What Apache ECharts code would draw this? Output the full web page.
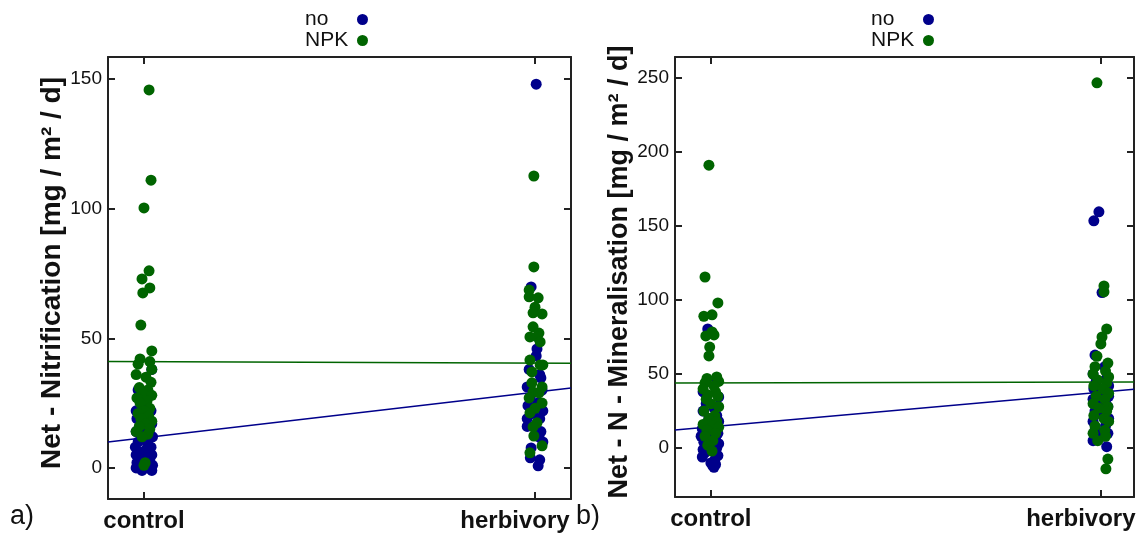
<!DOCTYPE html>
<html>
<head>
<meta charset="utf-8">
<script src="https://cdn.jsdelivr.net/npm/echarts@6/dist/echarts.min.js"></script>
<style>
html,body{margin:0;padding:0;background:#fff;}
#chart{width:1143px;height:536px;}
</style>
</head>
<body>
<div id="chart"></div>
<script>
// ---------- data ----------
var categories = ['control', 'herbivory'];
var seriesNames = ['no', 'NPK'];

// Panel a) Net - Nitrification
var yTicksA = [0, 50, 100, 150];
var noCtrlA = [38, 30, 29, 25, 22, 22, 20, 19, 18, 17, 16, 15, 14, 13, 13, 12, 11, 10, 9, 8, 8, 7, 6, 5, 5, 4, 3, 3, 2, 1, 1, 0, 0, -1, -1];
var noCtrlAJit = [0.02, -0.015, 0.01, -0.005, -0.02, 0.018, 0.005, -0.018, 0.012, 0.02, -0.01, 0.003, -0.02, 0.015, -0.008, 0.022, 0.0, -0.015, 0.01, -0.022, 0.018, 0.005, -0.012, 0.02, -0.02, 0.008, -0.005, 0.015, -0.018, 0.022, -0.01, 0.012, -0.02, 0.02, -0.005];
var npkCtrlA = [145.8, 111, 100.3, 76, 72.9, 69.4, 67.5, 55.1, 45.1, 42, 41, 40, 38, 36, 35, 33, 31, 30, 29, 28, 27, 26, 25, 23, 22, 21, 20, 19, 18, 17, 16, 15, 14, 13, 12, 2, 1];
var npkCtrlAJit = [0.013, 0.018, 0.0, 0.013, -0.005, 0.015, -0.003, -0.008, 0.02, -0.01, 0.015, -0.015, 0.02, -0.02, 0.005, 0.018, -0.012, 0.01, -0.005, 0.02, -0.018, 0.008, -0.01, 0.015, 0.0, -0.015, 0.012, -0.008, 0.02, 0.005, -0.012, 0.015, -0.02, 0.01, -0.005, 0.003, 0.0];
var noHerbA = [148, 69.8, 45.9, 43.2, 38, 36, 34.7, 31.2, 30, 27, 25, 24, 22, 21, 19, 19, 16, 14, 12, 10, 7.7, 3.9, 3.1, 0.8];
var noHerbAJit = [0.003, -0.01, 0.005, 0.003, -0.015, 0.012, 0.015, -0.02, 0.018, -0.012, 0.008, -0.018, 0.02, -0.005, -0.02, 0.012, -0.02, 0.015, 0.01, 0.02, -0.01, -0.012, 0.012, 0.008];
var npkHerbA = [112.6, 77.5, 68.6, 66, 65.6, 62, 59.8, 59.4, 54.4, 52, 50.5, 50.5, 48.6, 41.6, 39.7, 39.7, 37, 32.8, 31.2, 29.3, 28.9, 27, 25, 23, 21.2, 17.4, 15.8, 12.3, 8.5, 5.8];
var npkHerbAJit = [-0.003, -0.003, -0.015, -0.015, 0.008, 0.0, -0.005, 0.018, -0.005, 0.01, -0.013, 0.005, 0.013, -0.013, 0.013, 0.02, -0.008, -0.008, 0.018, -0.005, 0.01, -0.015, 0.018, 0.0, -0.013, 0.005, -0.005, -0.003, 0.018, -0.013];
var fitNoA = [11.6, 29.2];   // fitted value at control, herbivory
var fitNpkA = [41.0, 40.4];

// Panel b) Net - N - Mineralisation
var yTicksB = [0, 50, 100, 150, 200, 250];
var noCtrlB = [80.4, 45, 38, 34.5, 30, 27, 25, 22, 20, 18, 16, 14, 13, 12, 10, 9, 8, 6, 5, 4, 3, 2, 0, -1, -2, -3, -5, -6, -8, -10, -11, -12, -13];
var noCtrlBJit = [-0.008, 0.015, -0.02, 0.02, -0.012, 0.008, -0.02, 0.015, -0.005, 0.02, -0.015, 0.01, -0.022, 0.005, 0.018, -0.01, -0.025, 0.012, 0.0, -0.018, 0.02, -0.008, 0.015, -0.02, 0.005, -0.015, 0.018, -0.022, 0.01, 0.0, 0.012, 0.005, 0.008];
var npkCtrlB = [191, 115.5, 98, 90, 89, 78.4, 76.4, 75.7, 68.2, 62.2, 48, 47, 45, 44, 42, 40, 38, 36, 35, 33, 30, 28, 25, 22, 20, 18, 16, 15, 14, 12, 10, 8, 5, 2, -2];
var npkCtrlBJit = [-0.005, -0.015, 0.018, 0.003, -0.018, 0.003, 0.008, -0.013, -0.003, -0.005, 0.015, -0.01, 0.02, -0.015, 0.008, -0.02, 0.012, -0.008, 0.018, -0.012, 0.0, 0.02, -0.018, 0.01, -0.005, 0.015, -0.02, 0.005, 0.02, -0.01, 0.012, -0.015, 0.005, -0.008, 0.003];
var noHerbB = [159.5, 153.4, 105, 62.8, 55, 50, 47, 45, 42, 40, 38, 35, 33, 32, 30, 28, 25, 22, 20, 18, 15, 12, 10, 8, 5, 1];
var noHerbBJit = [-0.005, -0.018, 0.003, -0.015, 0.01, -0.02, 0.015, -0.012, 0.02, -0.018, 0.008, 0.02, -0.02, 0.012, -0.01, 0.018, -0.015, 0.005, 0.02, -0.02, 0.012, -0.015, 0.018, 0.005, -0.02, 0.015];
var npkHerbB = [246.6, 109.5, 105.4, 80.4, 75, 70.3, 62, 57.4, 55, 52, 50, 48, 46, 44, 42, 40, 37, 35, 33, 30, 28, 27, 25, 22, 20, 18, 15, 12, 10, 8, 5, -7.4, -14];
var npkHerbBJit = [-0.01, 0.008, 0.008, 0.015, 0.003, 0.0, -0.01, 0.018, -0.015, 0.012, -0.02, 0.02, -0.008, 0.015, -0.018, 0.005, 0.02, -0.012, 0.01, -0.02, 0.018, -0.005, 0.015, -0.018, 0.008, 0.02, -0.015, 0.01, -0.02, 0.012, -0.008, 0.018, 0.013];
var fitNoB = [14.4, 37.8];
var fitNpkB = [44.0, 44.6];

// ---------- styling / layout ----------
var BLUE = '#00008B', GREEN = '#006400';
var FONT = '"Liberation Sans", Arial, sans-serif';
var xMinA = -0.092, xMaxA = 1.092, yMinA = -12, yMaxA = 158.5;
var xMinB = -0.092, xMaxB = 1.085, yMinB = -33, yMaxB = 264;

function pts(cat, vals, jit) {
  return vals.map(function (v, i) { return [cat + (jit[i] || 0), v]; });
}
function fitLine(fit, x0, x1) {
  var f = function (x) { return fit[0] + (fit[1] - fit[0]) * x; };
  return [[x0, f(x0)], [x1, f(x1)]];
}

var axisLineStyle = { color: '#222', width: 2 };
function xAx(grid, mn, mx, pos, labels) {
  return {
    type: 'value', gridIndex: grid, min: mn, max: mx, position: pos,
    axisLine: { show: true, onZero: false, lineStyle: axisLineStyle },
    axisTick: { show: true, inside: true, length: 7, lineStyle: axisLineStyle, customValues: [0, 1] },
    axisLabel: labels ? {
      show: true, customValues: [0, 1], margin: 10,
      formatter: function (v) { var i = Math.round(v); return '{c' + i + '|' + categories[i] + '}'; },
      rich: {
        c0: { fontFamily: FONT, fontSize: 24, fontWeight: 'bold', color: '#111' },
        c1: { fontFamily: FONT, fontSize: 24, fontWeight: 'bold', color: '#111', padding: [0, 40, 0, 0] }
      }
    } : { show: false },
    splitLine: { show: false }
  };
}
function yAx(grid, mn, mx, pos, ticks, name, labels, nameSize) {
  return {
    type: 'value', gridIndex: grid, min: mn, max: mx, position: pos,
    name: name || '', nameLocation: 'middle', nameRotate: 90, nameGap: 37,
    nameTextStyle: { fontFamily: FONT, fontSize: nameSize || 27, fontWeight: 'bold', color: '#111', padding: [0, 0, 0, 10] },
    axisLine: { show: true, onZero: false, lineStyle: axisLineStyle },
    axisTick: { show: true, inside: true, length: 7, lineStyle: axisLineStyle, customValues: ticks },
    axisLabel: labels ? {
      show: true, customValues: ticks, margin: 6,
      fontFamily: FONT, fontSize: 19, color: '#111'
    } : { show: false },
    splitLine: { show: false }
  };
}
function scatter(name, color, data, xi, yi, z) {
  return {
    name: name, type: 'scatter', xAxisIndex: xi, yAxisIndex: yi,
    data: data, symbol: 'circle', symbolSize: 11, z: z,
    itemStyle: { color: color, opacity: 1 }, silent: true
  };
}
function line(color, data, xi, yi) {
  return {
    type: 'line', xAxisIndex: xi, yAxisIndex: yi, data: data,
    symbol: 'none', z: 1, silent: true,
    lineStyle: { color: color, width: 1.5 }
  };
}
function legend(left) {
  return {
    data: seriesNames, orient: 'vertical', left: left, top: 4,
    align: 'right', icon: 'circle', itemWidth: 11, itemHeight: 11, itemGap: 0,
    selectedMode: false,
    formatter: function (n) { return '{t|' + n + '}'; },
    textStyle: {
      fontFamily: FONT, fontSize: 21, color: '#111', lineHeight: 21,
      rich: { t: { fontFamily: FONT, fontSize: 21, color: '#111', width: 47, align: 'left', lineHeight: 21 } }
    }
  };
}

var option = {
  animation: false,
  backgroundColor: '#fff',
  grid: [
    { left: 108, top: 57, width: 463, height: 442, outerBoundsMode: 'none', containLabel: false },
    { left: 675, top: 57, width: 459, height: 440, outerBoundsMode: 'none', containLabel: false }
  ],
  legend: [legend(300), legend(866)],
  xAxis: [
    xAx(0, xMinA, xMaxA, 'bottom', true),
    xAx(0, xMinA, xMaxA, 'top', false),
    xAx(1, xMinB, xMaxB, 'bottom', true),
    xAx(1, xMinB, xMaxB, 'top', false)
  ],
  yAxis: [
    yAx(0, yMinA, yMaxA, 'left', yTicksA, 'Net - Nitrification [mg / m² / d]', true, 28),
    yAx(0, yMinA, yMaxA, 'right', yTicksA, '', false),
    yAx(1, yMinB, yMaxB, 'left', yTicksB, 'Net - N - Mineralisation [mg / m² / d]', true, 27),
    yAx(1, yMinB, yMaxB, 'right', yTicksB, '', false)
  ],
  graphic: [
    { type: 'text', left: 10, top: 503, style: { text: 'a)', fontFamily: FONT, fontSize: 27, fill: '#111' } },
    { type: 'text', left: 576, top: 503, style: { text: 'b)', fontFamily: FONT, fontSize: 27, fill: '#111' } }
  ],
  series: [
    line(BLUE, fitLine(fitNoA, xMinA, xMaxA), 0, 0),
    line(GREEN, fitLine(fitNpkA, xMinA, xMaxA), 0, 0),
    scatter('no', BLUE, pts(0, noCtrlA, noCtrlAJit).concat(pts(1, noHerbA, noHerbAJit)), 0, 0, 2),
    scatter('NPK', GREEN, pts(0, npkCtrlA, npkCtrlAJit).concat(pts(1, npkHerbA, npkHerbAJit)), 0, 0, 3),
    line(BLUE, fitLine(fitNoB, xMinB, xMaxB), 2, 2),
    line(GREEN, fitLine(fitNpkB, xMinB, xMaxB), 2, 2),
    scatter('no', BLUE, pts(0, noCtrlB, noCtrlBJit).concat(pts(1, noHerbB, noHerbBJit)), 2, 2, 2),
    scatter('NPK', GREEN, pts(0, npkCtrlB, npkCtrlBJit).concat(pts(1, npkHerbB, npkHerbBJit)), 2, 2, 3)
  ]
};
var chart = echarts.init(document.getElementById('chart'), null, { renderer: 'canvas' });
chart.setOption(option);
</script>
</body>
</html>
